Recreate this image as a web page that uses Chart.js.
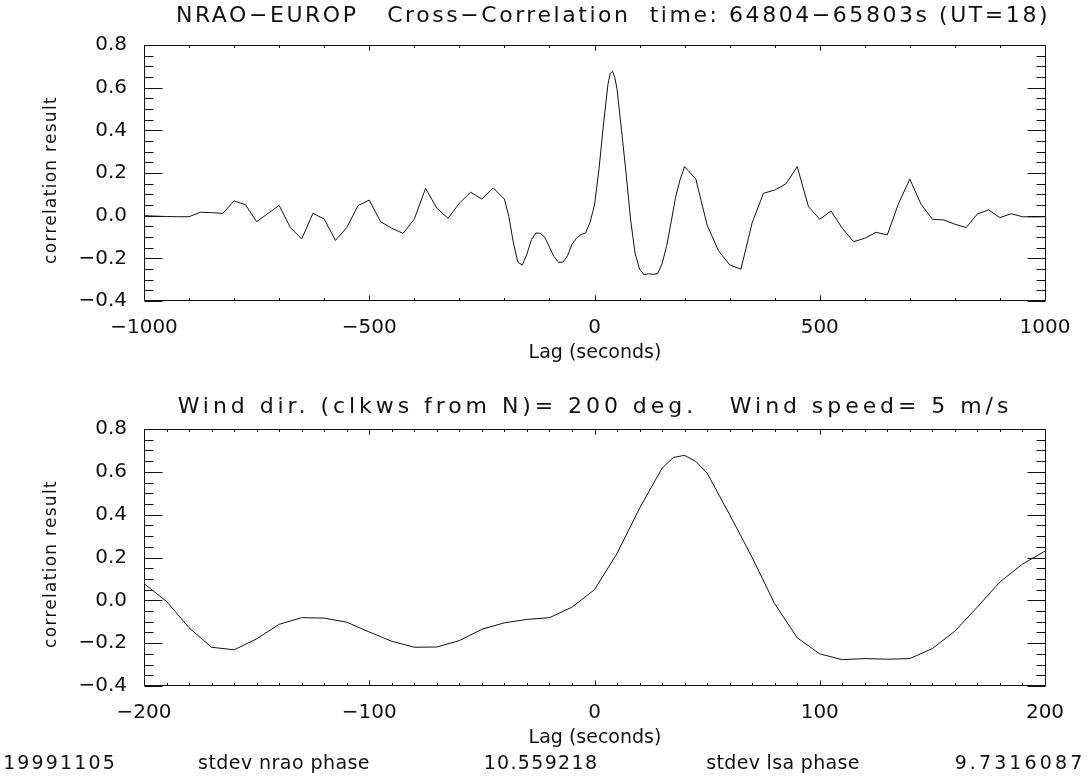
<!DOCTYPE html>
<html><head><meta charset="utf-8">
<script src="https://cdn.jsdelivr.net/npm/chart.js@4.4.1/dist/chart.umd.min.js"></script>
<style>
html,body{margin:0;padding:0;background:#fff;}
#wrap{position:relative;width:1088px;height:777px;overflow:hidden;background:#fff;}
canvas{position:absolute;left:0;}
.t{position:absolute;white-space:pre;font-family:'DejaVu Sans',sans-serif;font-weight:normal;color:#111;line-height:1;transform:translate(-50%,-50%);}
.rot{transform:translate(-50%,-50%) rotate(-90deg);}
</style></head><body>
<div id="wrap">
<canvas id="c1" width="1088" height="380" style="top:0;width:1088px;height:380px"></canvas>
<canvas id="c2" width="1088" height="397" style="top:380px;width:1088px;height:397px"></canvas>
<div class="t" id="title1" style="left:613px;top:15px;font-size:22px" data-w="874">NRAO−EUROP   Cross−Correlation  time: 64804−65803s (UT=18)</div>
<div class="t" id="title2" style="left:595px;top:406px;font-size:22px" data-w="835">Wind dir. (clkws from N)= 200 deg.   Wind speed= 5 m/s</div>
<div class="t rot" style="left:50px;top:180px;font-size:17px" data-w="168">correlation result</div>
<div class="t rot" style="left:50px;top:564px;font-size:17px" data-w="168">correlation result</div>
<div class="t" style="left:595px;top:351px;font-size:19px">Lag (seconds)</div>
<div class="t" style="left:595px;top:736px;font-size:19px">Lag (seconds)</div>
<div class="t" style="left:60px;top:762px;font-size:19px" data-w="114">19991105</div>
<div class="t" style="left:284px;top:762px;font-size:19px" data-w="172">stdev nrao phase</div>
<div class="t" style="left:541px;top:762px;font-size:19px" data-w="115">10.559218</div>
<div class="t" style="left:783px;top:762px;font-size:19px" data-w="154">stdev lsa phase</div>
<div class="t" style="left:1020px;top:762px;font-size:19px" data-w="131">9.7316087</div>
</div>
<script>
// ---------------- data ----------------
const coarseLagsLeft = [-1000,-975,-950,-925,-900,-875,-850,-825,-800,-775,-750,-725,-700,-675,-650,-625,-600,-575,-550,-525,-500,-475,-450,-425,-400,-375,-350,-325,-300,-275,-250,-225];
const coarseValsLeft = [0.000,-0.002,-0.004,-0.005,-0.005,0.016,0.014,0.011,0.069,0.052,-0.028,0.010,0.048,-0.056,-0.109,0.011,-0.016,-0.116,-0.056,0.047,0.073,-0.028,-0.059,-0.083,-0.016,0.128,0.035,-0.012,0.058,0.110,0.078,0.130];

const fineLags = [-200,-190,-180,-170,-160,-150,-140,-130,-120,-110,-100,-90,-80,-70,-60,-50,-40,-30,-20,-10,0,10,20,30,35,40,45,50,60,70,80,90,100,110,120,130,140,150,160,170,180,190,200];
const fineVals = [0.078,-0.005,-0.128,-0.219,-0.231,-0.180,-0.112,-0.081,-0.083,-0.102,-0.148,-0.191,-0.219,-0.218,-0.188,-0.135,-0.105,-0.089,-0.081,-0.032,0.050,0.219,0.430,0.617,0.667,0.677,0.648,0.594,0.400,0.200,-0.016,-0.175,-0.250,-0.277,-0.272,-0.275,-0.272,-0.225,-0.144,-0.031,0.086,0.169,0.230];

const coarseLagsRight = [225,250,275,300,325,350,375,400,425,450,475,500,525,550,575,600,625,650,675,700,725,750,775,800,825,850,875,900,925,950,975,1000];
const coarseValsRight = [0.171,-0.044,-0.164,-0.231,-0.251,-0.033,0.105,0.120,0.149,0.230,0.042,-0.017,0.022,-0.059,-0.122,-0.106,-0.078,-0.090,0.058,0.171,0.053,-0.017,-0.020,-0.040,-0.056,0.008,0.027,-0.009,0.009,-0.005,-0.006,-0.005];

const yTicks = [-0.4,-0.2,0.0,0.2,0.4,0.6,0.8];
const xTicksTop = [-1000,-500,0,500,1000];
const xTicksBottom = [-200,-100,0,100,200];

// ---------------- helpers ----------------
function pts(lags, vals){ return lags.map((l,i)=>({x:l,y:vals[i]})); }
const topData = pts(coarseLagsLeft.concat(fineLags, coarseLagsRight), coarseValsLeft.concat(fineVals, coarseValsRight));
const bottomData = pts(fineLags, fineVals);
const minus = s => String(s).replace('-', '\u2212');
const FONT = {family:"'DejaVu Sans', sans-serif", size:20, weight:'normal'};

const idlBox = {
  id:'idlBox',
  afterDatasetsDraw(chart, args, o){
    const ctx = chart.ctx, a = chart.chartArea, xs = chart.scales.x, ys = chart.scales.y;
    ctx.save();
    ctx.strokeStyle = '#111'; ctx.lineWidth = 1;
    const L = Math.round(a.left)+0.5, R = Math.round(a.right)+0.5, T = Math.round(a.top)+0.5, B = Math.round(a.bottom)-0.5;
    ctx.beginPath();
    ctx.rect(L, T, R-L, B-T);
    const xLen = 0.02*(a.bottom-a.top), yLen = 0.02*(a.right-a.left);
    const isMaj = (v, m) => Math.abs(v/m - Math.round(v/m)) < 1e-6;
    let n = Math.round((xs.max-xs.min)/o.xMinor);
    for (let i=0;i<=n;i++){
      const v = xs.min + i*o.xMinor;
      const p = Math.round(xs.getPixelForValue(v))+0.5;
      const len = isMaj(v,o.xMajor) ? xLen : xLen/2;
      ctx.moveTo(p, B); ctx.lineTo(p, B-len);
      ctx.moveTo(p, T); ctx.lineTo(p, T+len);
    }
    n = Math.round((ys.max-ys.min)/o.yMinor);
    for (let i=0;i<=n;i++){
      const v = ys.min + i*o.yMinor;
      const p = Math.round(ys.getPixelForValue(v))+0.5;
      const len = isMaj(v,o.yMajor) ? yLen : yLen/2;
      ctx.moveTo(L, p); ctx.lineTo(L+len, p);
      ctx.moveTo(R, p); ctx.lineTo(R-len, p);
    }
    ctx.stroke();
    ctx.restore();
  }
};

function makeChart(id, data, xmin, xmax, xticks, xMinor, xMajor, padTop, xAxisH){
  return new Chart(document.getElementById(id), {
    type:'line',
    data:{datasets:[{data, borderColor:'#111', borderWidth:1, pointRadius:0, tension:0, fill:false}]},
    options:{
      responsive:false, animation:false, events:[],
      layout:{padding:{left:0, right:43, top:padTop, bottom:0}},
      plugins:{legend:{display:false}, tooltip:{enabled:false}, title:{display:false},
        idlBox:{xMinor, xMajor, yMinor:0.05, yMajor:0.2}},
      scales:{
        x:{type:'linear', min:xmin, max:xmax,
           grid:{display:false}, border:{display:false},
           afterBuildTicks: s => { s.ticks = xticks.map(v=>({value:v})); },
           afterFit: s => { s.height = xAxisH; },
           ticks:{font:FONT, color:'#111', padding:7, maxRotation:0, autoSkip:false, callback:v=>minus(v)}},
        y:{type:'linear', min:-0.4, max:0.8,
           grid:{display:false}, border:{display:false},
           afterBuildTicks: s => { s.ticks = yTicks.map(v=>({value:v})); },
           afterFit: s => { s.width = 144; },
           ticks:{font:FONT, color:'#111', padding:9, autoSkip:false, callback:v=>minus(Number(v).toFixed(1))}}
      }
    },
    plugins:[idlBox]
  });
}
makeChart('c1', topData, -1000, 1000, xTicksTop, 100, 500, 45, 79);
makeChart('c2', bottomData, -200, 200, xTicksBottom, 10, 100, 49, 91);

// fit text widths
document.querySelectorAll('[data-w]').forEach(el=>{
  el.style.letterSpacing='0px';
  const w = el.scrollWidth || el.offsetWidth;
  const n = el.textContent.length;
  const ls = (parseFloat(el.dataset.w) - w)/n;
  el.style.letterSpacing = ls.toFixed(2)+'px';
});
</script>
</body></html>
